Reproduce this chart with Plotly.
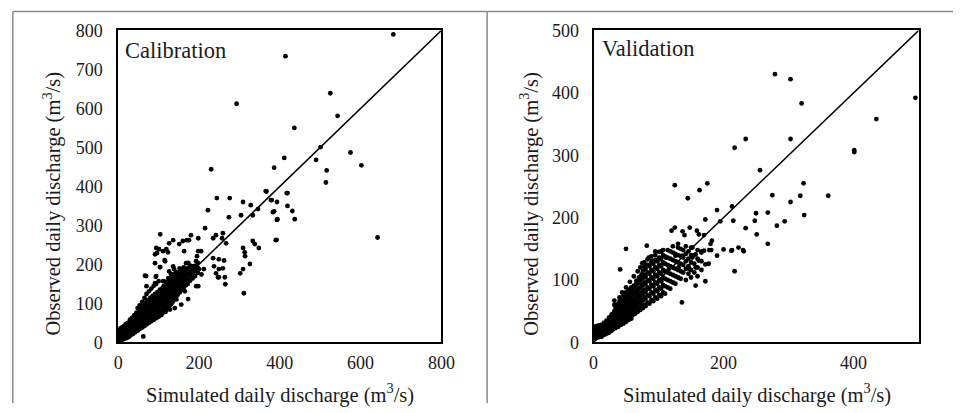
import plotly.graph_objects as go

# ---------------- Calibration data ----------------
cal_out_sim = [681, 414, 293, 525, 543, 436, 501, 490, 411, 575, 602, 516, 514, 230, 642, 386,
               367, 380, 393, 419, 419, 431, 386, 437, 394, 392, 311, 198, 265,
               244, 276, 222, 309, 328, 365, 378, 417, 383, 393, 390, 274, 304, 333, 346,
               215, 242, 259, 257, 235, 267, 309, 313, 333, 338, 348, 314, 326, 309, 302,
               198, 205, 198, 180, 104, 126, 136, 151, 160, 170, 175, 163, 94, 101, 111, 119,
               123, 91, 96, 91, 116, 104, 138, 193, 195, 185, 235, 249, 262, 237, 249, 242,
               259, 249, 212, 200, 168, 173, 180, 69, 94, 126, 143,
               66, 93, 103, 115, 136, 152, 91, 70, 111, 128, 144, 132, 152, 165, 173, 156,
               140, 128, 144, 193, 206, 185, 173, 62, 41, 54, 247, 264]
cal_out_obs = [790, 734, 612, 639, 581, 550, 501, 468, 473, 487, 454, 441, 410, 444, 269, 448,
               387, 365, 360, 383, 350, 337, 336, 316, 316, 263, 126, 144, 149,
               370, 370, 339, 360, 352, 388, 365, 383, 334, 314, 262, 321, 326, 326, 342,
               293, 275, 280, 267, 267, 254, 242, 231, 260, 252, 242, 221, 201, 188, 177,
               234, 234, 267, 275, 277, 254, 262, 252, 260, 262, 262, 234, 242, 239, 234, 239,
               231, 226, 229, 203, 208, 193, 188, 208, 221, 195, 216, 213, 210, 195, 188, 177,
               190, 167, 188, 188, 203, 190, 182, 170, 170, 182, 175,
               171, 168, 193, 211, 195, 182, 152, 144, 157, 159, 161, 135, 140, 131, 111, 97,
               88, 84, 110, 144, 174, 195, 204, 15, 58, 71, 167, 167]

cal_core_sim = [1, 3, 5, 8, 10, 13, 15, 18, 21, 23, 26, 29, 31, 34, 37, 40, 42, 45, 48, 51,
                53, 56, 59, 62, 65, 67, 70, 73, 76, 79, 82, 85, 88, 91, 94, 97, 100, 103,
                107, 110, 113, 117, 120, 124, 127, 131, 135, 139, 143, 147, 152, 157, 162,
                167, 172, 178, 184, 190, 197]
cal_core_obs = [[4, 10, 16, 22, 28], [7, 13, 19, 25, 32], [5, 11, 17, 23, 30, 36],
                [9, 15, 21, 27, 34], [7, 13, 19, 25, 32, 39], [11, 17, 23, 30, 37],
                [9, 15, 21, 28, 35, 42], [13, 19, 26, 33, 40, 46], [11, 17, 24, 31, 38, 45],
                [16, 23, 30, 37, 44, 50], [14, 21, 28, 35, 42, 49], [20, 27, 34, 42, 50, 58],
                [18, 25, 32, 40, 48, 56], [24, 31, 39, 47, 55, 63], [22, 29, 37, 45, 53, 61],
                [28, 36, 44, 52, 61, 70], [26, 34, 42, 50, 58, 67], [32, 40, 49, 58, 67, 76],
                [30, 38, 47, 56, 65, 74, 88], [36, 45, 54, 63, 72, 82],
                [34, 43, 52, 61, 70, 79, 95], [40, 49, 59, 69, 79, 89],
                [38, 47, 57, 67, 77, 87, 104], [44, 54, 64, 74, 85, 96],
                [42, 52, 62, 72, 83, 94, 114], [48, 58, 69, 80, 91, 102],
                [46, 56, 67, 78, 89, 100, 124], [52, 63, 74, 85, 96, 108],
                [50, 61, 72, 83, 94, 106, 131], [56, 67, 78, 90, 102, 114],
                [54, 65, 76, 88, 100, 112, 138], [60, 71, 83, 95, 107, 119],
                [58, 69, 81, 93, 105, 117, 145], [64, 76, 88, 100, 112, 124],
                [62, 74, 86, 98, 110, 122, 150], [68, 80, 92, 104, 116, 129],
                [66, 78, 90, 102, 115, 128, 157], [72, 84, 96, 109, 122, 135],
                [70, 82, 95, 108, 121, 134], [76, 88, 101, 114, 127, 140],
                [80, 93, 106, 119, 132, 145], [78, 91, 104, 117, 130, 143, 156],
                [84, 97, 110, 123, 136, 149], [88, 101, 114, 127, 140, 153, 165],
                [94, 107, 120, 133, 146, 159], [98, 111, 124, 137, 150, 163, 175],
                [104, 117, 130, 143, 156, 169], [110, 123, 136, 149, 162, 175],
                [116, 129, 142, 155, 168, 181], [122, 135, 148, 161, 174],
                [128, 141, 154, 167, 180, 190], [134, 147, 160, 173, 186],
                [140, 153, 166, 179, 192], [146, 159, 172, 185], [150, 163, 176, 190],
                [158, 171, 184, 197], [164, 177, 190], [170, 183, 196], [178, 191, 204]]

# ---------------- Validation data ----------------
val_out_sim = [495, 279, 303, 320, 435, 401, 401, 303, 234, 217, 256, 323, 361, 318, 275, 303,
               324, 268, 250, 248, 215, 195, 282, 294, 251, 234, 268, 213, 190, 125, 175, 163,
               145, 172, 120, 125, 137, 148, 50, 41, 217, 223, 230, 200, 213, 190, 178, 166,
               157, 136, 172, 157, 182, 180, 159, 140, 162, 170, 82, 95, 104, 130, 152, 170,
               181, 212, 231, 75, 177, 85, 90, 101, 111, 126, 136, 152, 162, 172, 116, 131,
               147, 157]
val_out_obs = [392, 430, 422, 383, 358, 308, 305, 326, 326, 312, 276, 255, 235, 235, 236, 225,
               204, 208, 207, 195, 195, 194, 187, 194, 173, 183, 158, 218, 212, 252, 255, 244,
               231, 197, 179, 184, 178, 184, 150, 117, 114, 152, 148, 149, 148, 139, 148, 146,
               141, 64, 98, 91, 163, 158, 179, 172, 173, 172, 155, 146, 146, 158, 152, 147,
               148, 147, 146, 127, 126, 136, 131, 133, 136, 139, 139, 136, 131, 125, 118, 120,
               118, 120]

val_core_sim = [0, 2, 4, 6, 8, 10, 12, 14, 16, 18, 20, 22, 24, 26, 28, 30, 32, 34, 36, 38,
                40, 42, 44, 46, 48, 50, 52, 54, 56, 58, 60, 62, 64, 66, 68, 70, 72, 74, 76,
                78, 80, 83, 86, 89, 92, 95, 98, 101, 104, 107, 110, 114, 118, 122, 126, 130,
                134, 138, 142, 146, 150, 155, 160, 166]
val_core_obs = [[6, 11, 16, 21], [8, 13, 18, 23], [7, 12, 17, 22, 26], [9, 14, 19, 24],
                [8, 13, 17, 22, 27], [10, 15, 19, 24], [9, 14, 18, 23, 28], [11, 16, 20, 26],
                [12, 17, 22, 27, 31], [13, 18, 23, 29], [14, 19, 25, 31, 35],
                [15, 21, 27, 33], [16, 22, 28, 35, 40], [18, 24, 30, 37],
                [19, 25, 32, 39, 45], [21, 29, 37, 45], [25, 33, 41, 50, 60, 67],
                [23, 31, 39, 47, 55], [27, 35, 44, 53, 61], [25, 33, 41, 49, 58],
                [30, 38, 47, 56, 66, 72], [28, 36, 44, 53, 62], [32, 41, 50, 59, 69, 80],
                [30, 39, 48, 57, 66, 75], [35, 44, 53, 63, 73], [33, 42, 51, 60, 70, 80, 88],
                [38, 47, 57, 67, 77], [36, 45, 55, 64, 74, 84], [40, 50, 60, 71, 82, 97],
                [38, 48, 58, 68, 78, 88], [43, 53, 64, 75, 86],
                [48, 58, 69, 80, 91, 106], [46, 57, 68, 79, 90],
                [51, 62, 73, 84, 95, 99], [49, 60, 71, 82, 94, 114],
                [54, 65, 76, 87, 99, 104], [52, 63, 75, 87, 99, 120],
                [57, 68, 80, 92, 104, 109], [55, 67, 79, 91, 103, 115],
                [60, 72, 84, 96, 108, 122, 128], [58, 70, 82, 94, 106, 118],
                [64, 76, 88, 100, 112, 124, 133], [62, 74, 86, 98, 110, 122],
                [68, 80, 92, 104, 116, 128, 138], [66, 78, 90, 102, 114, 126],
                [72, 84, 96, 108, 120, 132, 140], [70, 82, 94, 106, 118, 130],
                [76, 88, 100, 112, 124, 136, 145], [74, 86, 98, 110, 122, 134],
                [80, 92, 104, 116, 128, 140, 148], [78, 90, 102, 114, 126, 138],
                [88, 100, 112, 124, 136, 148], [86, 98, 110, 122, 134, 146],
                [96, 108, 120, 132, 144, 154], [94, 106, 118, 130, 142],
                [104, 116, 128, 140, 152], [102, 114, 126, 138, 150],
                [112, 124, 136, 148], [100, 118, 130, 142, 154], [110, 122, 134, 146],
                [104, 116, 128, 140, 152], [112, 126, 140], [106, 120, 134, 148],
                [116, 130, 144]]

cal_ticks_x = [0, 200, 400, 600, 800]
cal_ticks_y = [0, 100, 200, 300, 400, 500, 600, 700, 800]
val_ticks_x = [0, 200, 400]
val_ticks_y = [0, 100, 200, 300, 400, 500]
cal_max = 800
val_max = 500
panel_labels = ["Calibration", "Validation"]
x_title = "Simulated daily discharge (m<sup>3</sup>/s)"
y_title = "Observed daily discharge (m<sup>3</sup>/s)"


def expand(xs, yss):
    px, py = [], []
    for x, ys in zip(xs, yss):
        for y in ys:
            px.append(x)
            py.append(y)
    return px, py


cx, cy = expand(cal_core_sim, cal_core_obs)
vx, vy = expand(val_core_sim, val_core_obs)

W, H = 967, 413


# target picture pixel -> paper fraction (compensates the capture scaling seen)
def PX(x):
    return ((x - 2.1) / 0.986) / W


def PY(y):
    return 1 - ((y - 8.45) / 0.955) / H


FONT = "Liberation Serif"
TXT = "#1a1a1a"
mk = dict(color="black", size=4.8)

fig = go.Figure()
fig.add_trace(go.Scatter(x=cal_out_sim + cx, y=cal_out_obs + cy, mode="markers",
                         marker=mk, xaxis="x", yaxis="y", showlegend=False))
fig.add_trace(go.Scatter(x=[0, cal_max], y=[0, cal_max], mode="lines",
                         line=dict(color="black", width=1.5), xaxis="x", yaxis="y",
                         showlegend=False))
fig.add_trace(go.Scatter(x=val_out_sim + vx, y=val_out_obs + vy, mode="markers",
                         marker=mk, xaxis="x2", yaxis="y2", showlegend=False))
fig.add_trace(go.Scatter(x=[0, val_max], y=[0, val_max], mode="lines",
                         line=dict(color="black", width=1.5), xaxis="x2", yaxis="y2",
                         showlegend=False))

ydom = [PY(342), PY(29)]
axis_common = dict(showgrid=False, zeroline=False, showline=True, mirror=True,
                   linecolor="black", linewidth=1.8, ticks="",
                   tickfont=dict(family=FONT, size=18, color=TXT))

fig.update_layout(
    width=W, height=H,
    margin=dict(l=0, r=0, t=0, b=0),
    paper_bgcolor="white", plot_bgcolor="white",
    font=dict(family=FONT, color=TXT),
    xaxis=dict(domain=[PX(116), PX(441)], range=[0, cal_max], tickvals=cal_ticks_x,
               anchor="y", ticklabelstandoff=3, **axis_common),
    yaxis=dict(domain=ydom, range=[0, cal_max], tickvals=cal_ticks_y, anchor="x",
               ticklabelstandoff=10, **axis_common),
    xaxis2=dict(domain=[PX(594), PX(921)], range=[0, val_max], tickvals=val_ticks_x,
                anchor="y2", ticklabelstandoff=3, **axis_common),
    yaxis2=dict(domain=ydom, range=[0, val_max], tickvals=val_ticks_y, anchor="x2",
                ticklabelstandoff=9, **axis_common),
)

tfont = dict(family=FONT, size=20.5, color=TXT)
lfont = dict(family=FONT, size=22.5, color=TXT)
ann = [
    dict(x=PX(279), y=PY(393), text=x_title, showarrow=False, font=tfont,
         xref="paper", yref="paper", xanchor="center", yanchor="middle"),
    dict(x=PX(758), y=PY(393), text=x_title, showarrow=False, font=tfont,
         xref="paper", yref="paper", xanchor="center", yanchor="middle"),
    dict(x=PX(50), y=PY(203), text=y_title, showarrow=False, font=tfont, textangle=-90,
         xref="paper", yref="paper", xanchor="center", yanchor="middle"),
    dict(x=PX(530), y=PY(203), text=y_title, showarrow=False, font=tfont, textangle=-90,
         xref="paper", yref="paper", xanchor="center", yanchor="middle"),
    dict(x=PX(121), y=PY(49), text=panel_labels[0], showarrow=False, font=lfont,
         xref="paper", yref="paper", xanchor="left", yanchor="middle"),
    dict(x=PX(601), y=PY(47), text=panel_labels[1], showarrow=False, font=lfont,
         xref="paper", yref="paper", xanchor="left", yanchor="middle"),
]
fig.update_layout(annotations=ann)

frame = dict(color="#8a8a8a", width=1.5)
fig.update_layout(shapes=[
    dict(type="line", xref="paper", yref="paper", x0=PX(10), x1=1, y0=PY(10), y1=PY(10), line=frame),
    dict(type="line", xref="paper", yref="paper", x0=PX(10), x1=PX(10), y0=0, y1=PY(10), line=frame),
    dict(type="line", xref="paper", yref="paper", x0=PX(487), x1=PX(487), y0=0, y1=PY(10), line=frame),
])

css_fix = ("var s=document.createElement('style');"
           "s.textContent='html,body{margin:0;padding:0;overflow:hidden;width:967px;height:413px;}';"
           "document.head.appendChild(s);")
fig.write_html("out.html", config={"displayModeBar": False}, post_script=css_fix)
